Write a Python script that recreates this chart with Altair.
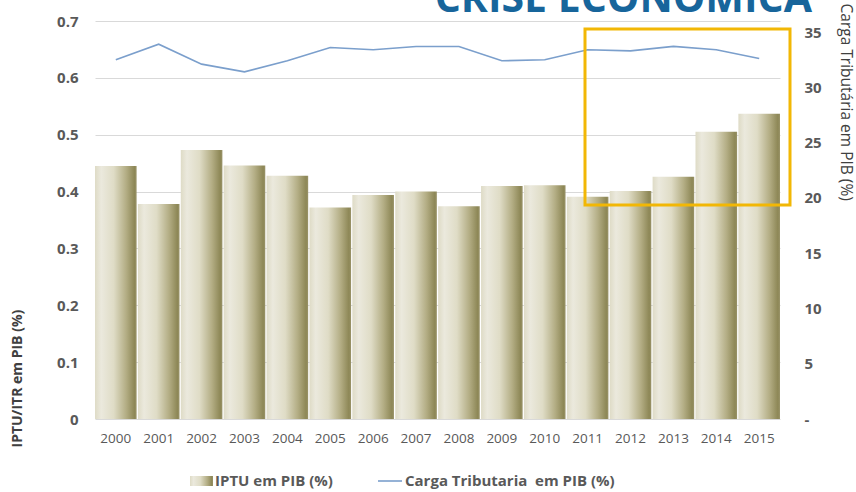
import altair as alt
import pandas as pd

# Tax data, 2000-2015
years = [str(y) for y in range(2000, 2016)]
iptu_pib = [0.445, 0.378, 0.473, 0.446, 0.428, 0.372, 0.394, 0.400,
            0.374, 0.410, 0.411, 0.391, 0.401, 0.426, 0.505, 0.537]
carga_pib = [32.5, 33.9, 32.1, 31.4, 32.4, 33.6, 33.4, 33.7,
             33.7, 32.4, 32.5, 33.4, 33.3, 33.7, 33.4, 32.6]

left_ticks = [0, 0.1, 0.2, 0.3, 0.4, 0.5, 0.6, 0.7]
right_ticks = [0, 5, 10, 15, 20, 25, 30, 35]

title_text = "CRISE ECONÔMICA"
legend_bar = "IPTU em PIB (%)"
legend_line = "Carga Tributaria\u00a0 em PIB (%)"

df = pd.DataFrame({"ano": years, "iptu": iptu_pib, "carga": carga_pib})

W, H = 685, 398
GRAY = "#595959"
FONT = "Open Sans"

bar_fill = alt.LinearGradient(
    gradient="linear", x1=0, x2=1, y1=0, y2=0,
    stops=[
        alt.GradientStop(offset=0.0, color="#dedbc6"),
        alt.GradientStop(offset=0.15, color="#ebe9dd"),
        alt.GradientStop(offset=0.45, color="#dfdcc6"),
        alt.GradientStop(offset=0.75, color="#b3ad84"),
        alt.GradientStop(offset=0.95, color="#8d8756"),
        alt.GradientStop(offset=1.0, color="#9a946a"),
    ],
)

x_enc = alt.X(
    "ano:O",
    scale=alt.Scale(paddingInner=0.03, paddingOuter=0),
    axis=alt.Axis(title=None, labelAngle=0, ticks=False, domain=False,
                  labelFontSize=13.5, labelColor=GRAY, labelPadding=12,
                  labelFont=FONT),
)

bars = alt.Chart(df).mark_bar(color=bar_fill).encode(
    x=x_enc,
    y=alt.Y(
        "iptu:Q",
        scale=alt.Scale(domain=[0, 0.7], nice=False),
        axis=alt.Axis(
            title="IPTU/ITR em PIB (%)", values=left_ticks,
            labelExpr="datum.value == 0 ? '0' : format(datum.value, '.1f')",
            grid=True, gridColor="#d9d9d9", gridWidth=1,
            ticks=False, domain=False,
            labelFontSize=15, labelFontWeight="bold", labelColor=GRAY,
            labelPadding=17, labelFont=FONT,
            titleFontSize=14, titleFontWeight="bold", titleColor="#404040",
            titleFont=FONT, titleAngle=270, titleAlign="left",
            titleBaseline="middle", titleX=-78, titleY=426,
        ),
    ),
)

line = alt.Chart(df).mark_line(color="#7b9fcc", strokeWidth=1.6).encode(
    x=alt.X("ano:O"),
    y=alt.Y(
        "carga:Q",
        scale=alt.Scale(domain=[0, 36], nice=False),
        axis=alt.Axis(
            orient="right", title="Carga Tributária em PIB (%)",
            values=right_ticks,
            labelExpr="datum.value == 0 ? '-' : datum.label",
            grid=False, ticks=False, domain=False,
            labelFontSize=15, labelFontWeight="bold", labelColor=GRAY,
            labelPadding=24, labelFont=FONT,
            titleFontSize=15.5, titleFontWeight="normal", titleColor="#404040",
            titleFont=FONT, titleAngle=90, titleAlign="left",
            titleBaseline="middle", titleX=65, titleY=-18,
        ),
    ),
)

one = pd.DataFrame({"k": [0]})

# Highlight box over the last years
box = alt.Chart(one).mark_rect(
    fill=None, stroke="#f2b705", strokeWidth=3
).encode(
    x=alt.value(490), x2=alt.value(695), y=alt.value(8), y2=alt.value(184)
)

heading = alt.Chart(one).mark_text(
    text=title_text, font=FONT, fontSize=41, fontWeight="bold",
    color="#17659b", align="right", baseline="alphabetic"
).encode(x=alt.value(717), y=alt.value(-9))

# Legend row
leg_swatch = alt.Chart(one).mark_rect(color=bar_fill).encode(
    x=alt.value(95), x2=alt.value(118), y=alt.value(455), y2=alt.value(465)
)
leg_text1 = alt.Chart(one).mark_text(
    text=legend_bar, font=FONT, fontSize=15, fontWeight="bold",
    color=GRAY, align="left", baseline="middle"
).encode(x=alt.value(120), y=alt.value(460))
leg_rule = alt.Chart(one).mark_rule(color="#7b9fcc", strokeWidth=1.6).encode(
    x=alt.value(283), x2=alt.value(307), y=alt.value(460)
)
leg_text2 = alt.Chart(one).mark_text(
    text=legend_line, font=FONT, fontSize=15, fontWeight="bold",
    color=GRAY, align="left", baseline="middle"
).encode(x=alt.value(310), y=alt.value(460))

chart = (
    alt.layer(bars, line, box, heading, leg_swatch, leg_text1, leg_rule, leg_text2)
    .resolve_scale(y="independent")
    .properties(
        width=W, height=H,
        autosize=alt.AutoSizeParams(type="none"),
        padding={"left": 95, "top": 21, "right": 76, "bottom": 73},
        background="white",
    )
    .configure_view(strokeWidth=0)
)

chart.save("out.html", embed_options={"renderer": "svg", "actions": False})
